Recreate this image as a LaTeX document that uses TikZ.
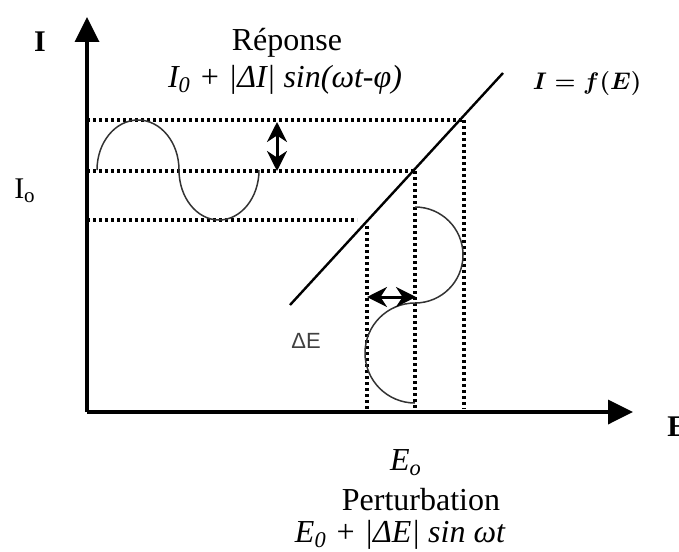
\documentclass[tikz,border=0pt]{standalone}
\usepackage{fontspec}
\setmainfont{Liberation Serif}
\newfontfamily\labsans{Liberation Sans}
\usetikzlibrary{arrows.meta}
\begin{document}
\begin{tikzpicture}[x=0.5pt,y=0.5pt,
  axisline/.style={line width=1.8pt,-{Triangle[length=12.5pt,width=12pt]}},
  charline/.style={line width=1.2pt},
  dotline/.style={line width=1.7pt,dash pattern=on 1.6pt off 1.4pt},
  wave/.style={line width=0.75pt,black!80},
  dblarrow/.style={line width=1.5pt,{Stealth[length=10pt,width=10pt]}-{Stealth[length=10pt,width=10pt]}},
  txt/.style={inner sep=0pt,font=\fontsize{16}{19}\selectfont},
  itxt/.style={inner sep=0pt,font=\fontsize{16}{19}\selectfont\itshape}]
\useasboundingbox (0,0) rectangle (679,-551);
% axes
\coordinate (O) at (87,-412);
\coordinate (Ytip) at (87,-17);
\coordinate (Xtip) at (633,-412);
\draw[axisline] (O) -- (Ytip);
\draw[axisline] (O) -- (Xtip);
% characteristic line
\coordinate (L1) at (290,-305);
\coordinate (L2) at (503,-73);
\draw[charline] (L1) -- (L2);
% dotted horizontals
\coordinate (H1a) at (87,-120); \coordinate (H1b) at (464,-120);
\coordinate (H2a) at (87,-171); \coordinate (H2b) at (415,-171);
\coordinate (H3a) at (87,-220); \coordinate (H3b) at (357,-220);
\draw[dotline] (H1a) -- (H1b);
\draw[dotline] (H2a) -- (H2b);
\draw[dotline] (H3a) -- (H3b);
% dotted verticals
\coordinate (V1a) at (367,-226); \coordinate (V1b) at (367,-409);
\coordinate (V2a) at (415,-171); \coordinate (V2b) at (415,-409);
\coordinate (V3a) at (464,-120); \coordinate (V3b) at (464,-409);
\draw[dotline] (V1a) -- (V1b);
\draw[dotline] (V2a) -- (V2b);
\draw[dotline] (V3a) -- (V3b);
% response wave
\coordinate (W1) at (97,-170);
\draw[wave] (W1) arc[start angle=180,end angle=0,x radius=41,y radius=50]
  arc[start angle=180,end angle=360,x radius=40,y radius=50];
% perturbation wave
\coordinate (W2) at (415,-207);
\draw[wave] (W2) arc[start angle=90,end angle=-90,radius=48]
  arc[start angle=90,end angle=270,radius=50];
% double arrows
\coordinate (A1) at (367,-297); \coordinate (A2) at (416,-297);
\draw[dblarrow] (A1) -- (A2);
\coordinate (B1) at (277,-122); \coordinate (B2) at (277,-171);
\draw[dblarrow] (B1) -- (B2);
% labels
\node[inner sep=0pt,font=\fontsize{15}{18}\selectfont\bfseries] (lI) at (40,-42) {I};
\node[inner sep=0pt,anchor=west,font=\fontsize{15}{18}\selectfont\bfseries] (lE) at (667,-427) {E};
\node[inner sep=0pt,font=\fontsize{15}{18}\selectfont] (lI0) at (25,-191) {I\textsubscript{o}};
\node[inner sep=0pt,font=\labsans\fontsize{11}{13}\selectfont,text=black!75] (lDE) at (306,-341) {ΔE};
\node[txt] (rep) at (287,-43) {Réponse};
\node[itxt] (repf) at (285,-80) {I\textsubscript{0} + |ΔI| sin(ωt-φ)};
\node[inner sep=0pt,font=\fontsize{13}{16}\selectfont\boldmath] (fE) at (587,-84) {$I = f(E)$};
\node[itxt] (E0) at (406,-463) {E\textsubscript{o}};
\node[txt] (pert) at (421,-500) {Perturbation};
\node[itxt] (pertf) at (400,-535) {E\textsubscript{0} + |ΔE| sin ωt};
\end{tikzpicture}
\end{document}
